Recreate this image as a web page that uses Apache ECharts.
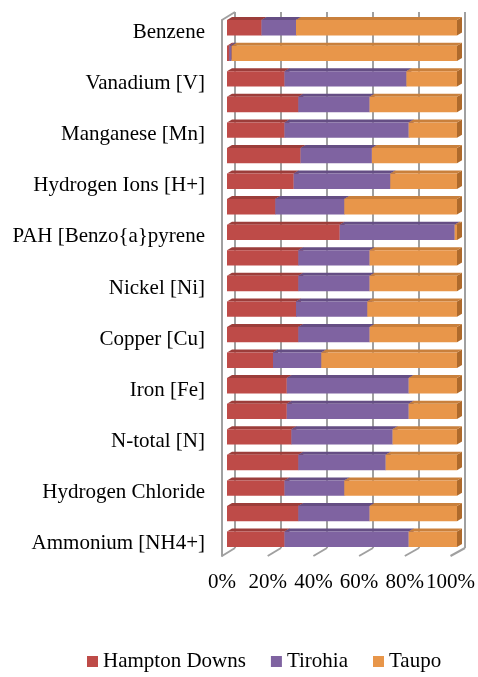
<!DOCTYPE html>
<html>
<head>
<meta charset="utf-8">
<script src="https://cdn.jsdelivr.net/npm/echarts@6/dist/echarts.min.js"></script>
<style>
  html, body { margin: 0; padding: 0; background: #fff; }
  #chart { width: 478px; height: 677px; }
</style>
</head>
<body>
<div id="chart"></div>
<script>
// Pollutant categories, top to bottom (every other row carries a label)
const categories = [
  'Benzene', '', 'Vanadium [V]', '', 'Manganese [Mn]', '',
  'Hydrogen Ions [H+]', '', 'PAH [Benzo{a}pyrene', '', 'Nickel [Ni]', '',
  'Copper [Cu]', '', 'Iron [Fe]', '', 'N-total [N]', '',
  'Hydrogen Chloride', '', 'Ammonium [NH4+]'
];

// Share of each site per row (percent)
const hamptonDowns = [15, 1, 25, 31, 25, 32, 29, 21, 49, 31, 31, 30, 31, 20, 26, 26, 28, 31, 25, 31, 25];
const tirohia      = [15, 1, 53, 31, 54, 31, 42, 30, 50, 31, 31, 31, 31, 21, 53, 53, 44, 38, 26, 31, 54];
const taupo        = [70, 98, 22, 38, 21, 37, 29, 49, 1, 38, 38, 39, 38, 59, 21, 21, 28, 31, 49, 38, 21];

const seriesNames = ['Hampton Downs', 'Tirohia', 'Taupo'];
const xTicks = [0, 20, 40, 60, 80, 100];

const faceColors = [
  { front: '#BE4B48', top: '#9C3D3A', side: '#8C3532' },
  { front: '#7F63A1', top: '#654E84', side: '#5A4676' },
  { front: '#E8964A', top: '#C9803C', side: '#AE6A2C' }
];

const FONT = 'Liberation Serif';
const GRID_LINE = '#A0A0A0';
const DX = 5, DY = 3;

// Build 100% stacked segments [row, start, end]
const raw = [hamptonDowns, tirohia, taupo];
const segments = raw.map(() => []);
categories.forEach((_, i) => {
  const total = raw.reduce((s, arr) => s + arr[i], 0);
  let acc = 0;
  raw.forEach((arr, k) => {
    const v = arr[i] / total * 100;
    segments[k].push([i, acc, acc + v]);
    acc += v;
  });
});

function boxRenderer(k) {
  return function (params, api) {
    const row = api.value(0);
    const p0 = api.coord([api.value(1), row]);
    const p1 = api.coord([api.value(2), row]);
    const h = api.size([0, 1])[1] * 0.6;
    const x0 = p0[0], x1 = p1[0];
    const top = p0[1] - h / 2, bot = p0[1] + h / 2;
    const c = faceColors[k];
    return {
      type: 'group',
      children: [
        { type: 'polygon', shape: { points: [[x1, top], [x1 + DX, top - DY], [x1 + DX, bot - DY], [x1, bot]] },
          style: { fill: c.side } },
        { type: 'polygon', shape: { points: [[x0, top], [x0 + DX, top - DY], [x1 + DX, top - DY], [x1, top]] },
          style: { fill: c.top } },
        { type: 'rect', shape: { x: x0, y: top, width: x1 - x0, height: h },
          style: { fill: c.front } }
      ]
    };
  };
}

const chart = echarts.init(document.getElementById('chart'), null, { renderer: 'canvas' });

const option = {
  animation: false,
  backgroundColor: '#fff',
  grid: [
    // bars (mid depth)
    { left: 227, top: 15, width: 230, height: 537 },
    // front plane: category and percent labels
    { left: 222, top: 20, width: 230, height: 536 },
    // back wall: gridlines
    { left: 235, top: 12, width: 230, height: 536 }
  ],
  xAxis: [
    { gridIndex: 0, type: 'value', min: 0, max: 100, show: false },
    { gridIndex: 1, type: 'value', min: 0, max: 100, interval: 20,
      axisLine: { show: false }, axisTick: { show: false }, splitLine: { show: false },
      axisLabel: { formatter: '{value}%', fontFamily: FONT, fontSize: 21, color: '#000', margin: 16 } },
    { gridIndex: 2, type: 'value', min: 0, max: 100, interval: 20,
      axisLine: { show: false }, axisTick: { show: false }, axisLabel: { show: false },
      splitLine: { show: true, lineStyle: { color: GRID_LINE, width: 2 } } }
  ],
  yAxis: [
    { gridIndex: 0, type: 'category', inverse: true, data: categories.map((_, i) => i), show: false },
    { gridIndex: 1, type: 'category', inverse: true, data: categories,
      axisLine: { show: true, lineStyle: { color: GRID_LINE, width: 2 } },
      axisTick: { show: false },
      axisLabel: { interval: 0, fontFamily: FONT, fontSize: 21, color: '#000', margin: 17,
        padding: [7, 0, 0, 0] } },
    { gridIndex: 2, type: 'category', inverse: true, data: categories.map((_, i) => i), show: false }
  ],
  legend: {
    left: 82, top: 646,
    itemWidth: 11, itemHeight: 11, itemGap: 25,
    icon: 'rect',
    textStyle: { fontFamily: FONT, fontSize: 21, color: '#000' },
    data: seriesNames
  },
  series: seriesNames.map((name, k) => ({
    name,
    type: 'custom',
    xAxisIndex: 0, yAxisIndex: 0,
    itemStyle: { color: faceColors[k].front },
    renderItem: boxRenderer(k),
    encode: { x: [1, 2], y: 0 },
    data: segments[k]
  }))
};

chart.setOption(option);

// Floor lines joining front and back planes, plus the top edge of the left wall
const lastRow = categories.length - 1;
const half = (536 / categories.length) / 2;
const wallLines = xTicks.map(t => {
  const f = chart.convertToPixel({ gridIndex: 1 }, [t, lastRow]);
  const b = chart.convertToPixel({ gridIndex: 2 }, [t, lastRow]);
  return { type: 'line', shape: { x1: f[0], y1: f[1] + half, x2: b[0], y2: b[1] + half },
    style: { stroke: GRID_LINE, lineWidth: 2 }, z: 1 };
});
const fTop = chart.convertToPixel({ gridIndex: 1 }, [0, 0]);
const bTop = chart.convertToPixel({ gridIndex: 2 }, [0, 0]);
wallLines.push({ type: 'line',
  shape: { x1: fTop[0], y1: fTop[1] - half, x2: bTop[0], y2: bTop[1] - half },
  style: { stroke: GRID_LINE, lineWidth: 2 }, z: 1 });

chart.setOption({ graphic: wallLines });
</script>
</body>
</html>
